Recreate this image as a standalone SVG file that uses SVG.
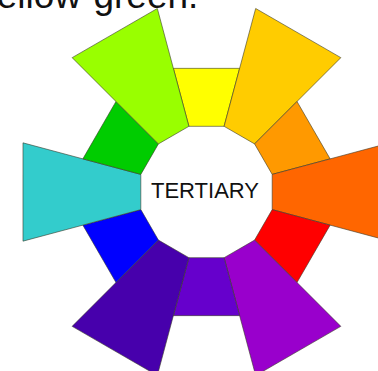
<svg xmlns="http://www.w3.org/2000/svg" width="378" height="371" viewBox="0 0 378 371">
<style>
.seg{stroke:#3a3a2a;stroke-width:0.8;stroke-opacity:0.75;stroke-linejoin:round}
.lbl{font-family:"Liberation Sans",Arial,sans-serif;fill:#111}
</style>
<rect width="378" height="371" fill="#ffffff"/>
<g id="caption"><text class="lbl" x="-24.5" y="7.5" font-size="37">Yellow-green.</text></g>
<g id="wheel">
<g id="yellow"><polygon class="seg" fill="#FFFF00" points="188.90,126.32 173.37,68.36 239.63,68.36 224.10,126.32"/></g>
<g id="yellow-orange"><polygon class="seg" fill="#FFCC00" points="224.10,126.32 255.67,8.47 340.85,57.65 254.58,143.92"/></g>
<g id="orange"><polygon class="seg" fill="#FF9900" points="254.58,143.92 297.01,101.49 330.14,158.87 272.18,174.40"/></g>
<g id="red-orange"><polygon class="seg" fill="#FF6600" points="272.18,174.40 390.03,142.83 390.03,241.17 272.18,209.60"/></g>
<g id="red"><polygon class="seg" fill="#FF0000" points="272.18,209.60 330.14,225.13 297.01,282.51 254.58,240.08"/></g>
<g id="red-violet"><polygon class="seg" fill="#9900CC" points="254.58,240.08 340.85,326.35 255.67,375.53 224.10,257.68"/></g>
<g id="violet"><polygon class="seg" fill="#6600CC" points="224.10,257.68 239.63,315.64 173.37,315.64 188.90,257.68"/></g>
<g id="blue-violet"><polygon class="seg" fill="#4700AC" points="188.90,257.68 157.33,375.53 72.15,326.35 158.42,240.08"/></g>
<g id="blue"><polygon class="seg" fill="#0000FF" points="158.42,240.08 115.99,282.51 82.86,225.13 140.82,209.60"/></g>
<g id="blue-green"><polygon class="seg" fill="#33CCCC" points="140.82,209.60 22.97,241.17 22.97,142.83 140.82,174.40"/></g>
<g id="green"><polygon class="seg" fill="#00CC00" points="140.82,174.40 82.86,158.87 115.99,101.49 158.42,143.92"/></g>
<g id="yellow-green"><polygon class="seg" fill="#99FF00" points="158.42,143.92 72.15,57.65 157.33,8.47 188.90,126.32"/></g>
</g>
<g id="center"><text class="lbl" x="205" y="197.5" font-size="22" text-anchor="middle">TERTIARY</text></g>
</svg>
